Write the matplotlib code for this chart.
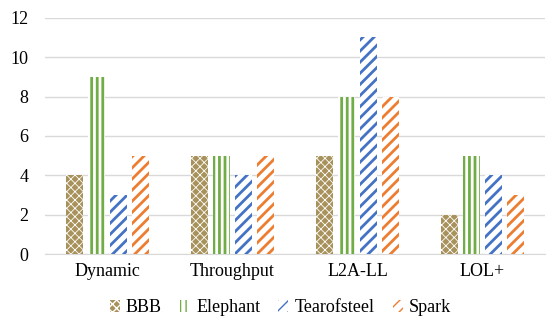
import matplotlib.pyplot as plt
import numpy as np

plt.rcParams["font.family"] = "Liberation Serif"

CATEGORIES = ["Dynamic", "Throughput", "L2A-LL", "LOL+"]
SERIES = ["BBB", "Elephant", "Tearofsteel", "Spark"]
BBB = [4, 5, 5, 2]
ELEPHANT = [9, 5, 8, 5]
TEAROFSTEEL = [3, 4, 11, 4]
SPARK = [5, 5, 8, 3]

COLORS = ["#a8925c", "#70ad47", "#4472c4", "#ed7d31"]
FONT = "Liberation Serif"


def main() -> None:
    fig = plt.figure(figsize=(5.5, 3.23), dpi=100)
    ax = fig.add_axes([0.082, 0.213, 0.909, 0.732])

    x = np.arange(len(CATEGORIES))
    values = [BBB, ELEPHANT, TEAROFSTEEL, SPARK]
    step = 0.176
    width = 0.142
    styles = [
        dict(facecolor=COLORS[0], edgecolor="white", hatch="xxxx"),
        dict(facecolor="white", edgecolor=COLORS[1], hatch="|||"),
        dict(facecolor="white", edgecolor=COLORS[2], hatch="///"),
        dict(facecolor="white", edgecolor=COLORS[3], hatch="///"),
    ]

    for i, (name, vals) in enumerate(zip(SERIES, values)):
        hatch_lw = 0.6 if i == 0 else 2.0
        with plt.rc_context({"hatch.linewidth": hatch_lw}):
            ax.bar(
                x + (i - 1.5) * step,
                vals,
                width=width,
                linewidth=0,
                label=name,
                zorder=3,
                **styles[i],
            )

    ax.set_xlim(-0.5, len(CATEGORIES) - 0.5)
    ax.set_ylim(0, 12)
    ax.set_yticks(range(0, 13, 2))
    ax.set_yticklabels([str(v) for v in range(0, 13, 2)], family=FONT, fontsize=13)
    ax.set_xticks(x)
    ax.set_xticklabels(CATEGORIES, family=FONT, fontsize=13)
    ax.tick_params(axis="y", length=0, pad=12)
    ax.tick_params(axis="x", length=0, pad=6)
    ax.grid(axis="y", color="#d9d9d9", linewidth=1, zorder=0)
    for side in ["top", "right", "left"]:
        ax.spines[side].set_visible(False)
    ax.spines["bottom"].set_color("#d9d9d9")

    fig.legend(
        loc="lower center",
        bbox_to_anchor=(0.51, -0.03),
        ncol=4,
        frameon=False,
        prop={"family": FONT, "size": 13},
        handlelength=0.55,
        handleheight=0.6,
        handletextpad=0.35,
        columnspacing=1.0,
    )

    fig.savefig("out.png", dpi=100)


if __name__ == "__main__":
    main()
